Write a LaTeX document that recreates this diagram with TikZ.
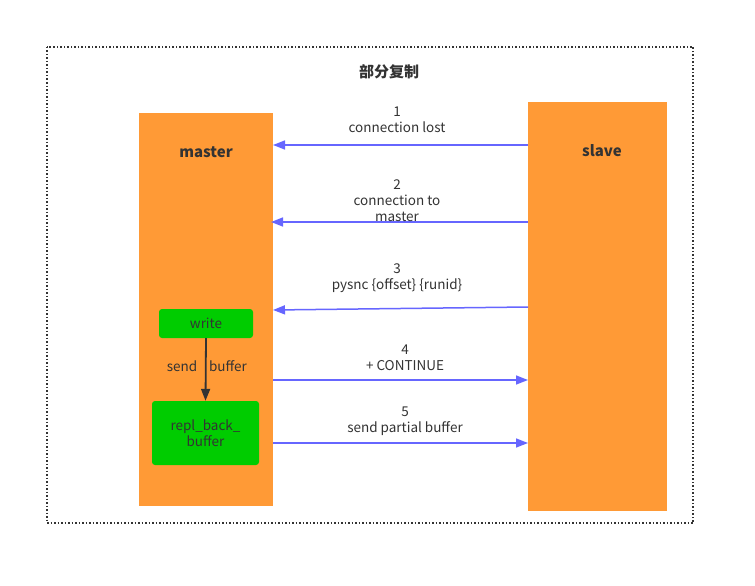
\documentclass[tikz,border=0pt]{standalone}
\usepackage{fontspec}
\setmainfont{Noto Sans CJK SC}
\usetikzlibrary{arrows.meta}
\definecolor{orng}{HTML}{FF9A36}
\definecolor{grn}{HTML}{00CC00}
\definecolor{arr}{HTML}{6666FF}
\definecolor{txt}{HTML}{333333}
\tikzset{
  lane/.style={fill=orng,draw=none},
  gbox/.style={fill=grn,draw=none,rounded corners=3pt,text=txt,font=\fontsize{13.5}{16}\selectfont,align=center},
  lbl/.style={text=txt,font=\fontsize{13.5}{16}\selectfont,align=center,inner sep=0pt},
  blbl/.style={text=txt,font=\fontsize{15}{17}\selectfont\bfseries,inner sep=0pt},
  msg/.style={draw=arr,line width=1.5pt,-{Triangle[length=12pt,width=9pt]}},
  dark/.style={draw=txt,line width=1.8pt,-{Triangle[length=12pt,width=9pt]}}
}
\begin{document}
\begin{tikzpicture}[x=1pt,y=-1pt]
\path[use as bounding box,fill=white] (0,0) rectangle (755,586);
\draw[txt,line width=1.5pt,dotted] (47,47) rectangle (693,523);
\node[blbl] (title) at (389,72) {部分复制};
\path[lane] (139,113) rectangle (273,506);
\path[lane] (528,102) rectangle (667,511);
\node[blbl] (master) at (206,152) {master};
\node[blbl] (slave) at (602,151) {slave};
\coordinate (m1) at (273,145); \coordinate (s1) at (528,145);
\coordinate (m2) at (271,222); \coordinate (s2) at (528,222);
\coordinate (m3) at (273,310); \coordinate (s3) at (528,307);
\coordinate (m4) at (273,380); \coordinate (s4) at (528,380);
\coordinate (m5) at (273,443); \coordinate (s5) at (528,443);
\draw[msg] (s1) -- (m1);
\draw[msg] (s2) -- (m2);
\draw[msg] (s3) -- (m3);
\draw[msg] (m4) -- (s4);
\draw[msg] (m5) -- (s5);
\node[lbl] (l1) at (397,120) {1\\connection lost};
\node[lbl] (l2) at (397,201) {2\\connection to\\master};
\node[lbl] (l3) at (397,278.5) {3\\pysnc \{offset\} \{runid\}};
\node[lbl] (l4) at (405,358) {4\\+ CONTINUE};
\node[lbl] (l5) at (405,421.5) {5\\send partial buffer};
\node[gbox,minimum width=94pt,minimum height=29pt] (write) at (206,323.5) {write};
\node[gbox,minimum width=107pt,minimum height=64pt] (repl) at (205.5,433) {repl\_back\_\\buffer};
\draw[dark] (write.south) -- (repl.north);
\node[lbl] (send) at (182,366) {send};
\node[lbl] (buf) at (228,366) {buffer};
\end{tikzpicture}
\end{document}
